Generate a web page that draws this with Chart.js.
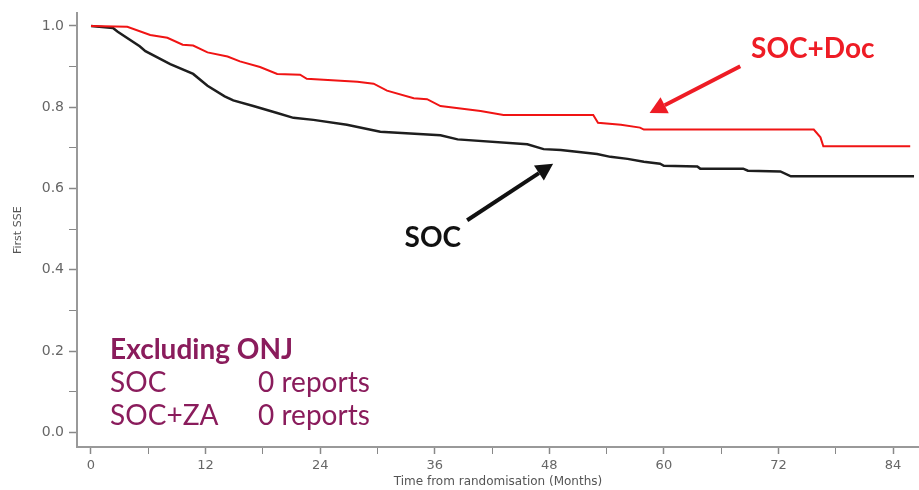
<!DOCTYPE html>
<html>
<head>
<meta charset="utf-8">
<script src="https://cdn.jsdelivr.net/npm/chart.js@4.4.1/dist/chart.umd.min.js"></script>
<style>
  html, body { margin: 0; padding: 0; background: #fff; }
  .chart-box { width: 919px; height: 490px; position: relative; }
</style>
</head>
<body>
<div class="chart-box"><canvas class="sse-chart"></canvas></div>
<script>
// SOC arm (black) - months from randomisation and first SSE free proportion
const socMonths = [0, 2.3, 2.8, 5.1, 5.7, 8.3, 10.7, 12.2, 14.0, 14.9, 17.0, 19.5, 21.2, 23.3, 26.8, 30.3, 36.6, 38.4, 45.7, 47.4, 49.2, 53.0, 54.4, 56.2, 57.9, 59.6, 60.0, 63.5, 63.8, 68.3, 68.8, 72.2, 73.3, 86.2];
const socSurv = [1.0, 0.995, 0.986, 0.950, 0.938, 0.906, 0.882, 0.853, 0.827, 0.817, 0.803, 0.786, 0.774, 0.769, 0.757, 0.740, 0.731, 0.721, 0.709, 0.697, 0.695, 0.685, 0.678, 0.673, 0.666, 0.661, 0.656, 0.654, 0.649, 0.649, 0.644, 0.642, 0.630, 0.630];

// SOC+Doc arm (red)
const docMonths = [0, 3.8, 6.2, 8.0, 9.6, 10.7, 12.2, 14.3, 15.6, 17.7, 19.5, 21.9, 22.6, 27.9, 29.6, 31.0, 33.8, 35.2, 36.6, 40.8, 43.2, 52.6, 53.1, 55.5, 57.5, 57.9, 75.7, 76.4, 76.7, 85.8];
const docSurv = [1.0, 0.998, 0.978, 0.971, 0.954, 0.952, 0.935, 0.925, 0.913, 0.899, 0.882, 0.880, 0.870, 0.863, 0.858, 0.841, 0.822, 0.820, 0.803, 0.791, 0.781, 0.781, 0.762, 0.757, 0.750, 0.745, 0.745, 0.726, 0.704, 0.704];

// axis ticks
const xTicks = [0, 6, 12, 18, 24, 30, 36, 42, 48, 54, 60, 66, 72, 78, 84];
const xLabels = ["0", "12", "24", "36", "48", "60", "72", "84"];
const yTicks = [0, 0.1, 0.2, 0.3, 0.4, 0.5, 0.6, 0.7, 0.8, 0.9, 1.0];
const yLabels = ["0.0", "0.2", "0.4", "0.6", "0.8", "1.0"];

// text notes on the plot
const noteTitle = "Excluding ONJ";
const noteRows = [["SOC", "0 reports"], ["SOC+ZA", "0 reports"]];

const toPoints = (xs, ys) => xs.map((x, i) => ({ x: x, y: ys[i] }));

const noteColor = "#8a1c5c";
const textFont = "Lato, 'Open Sans', sans-serif";

// draws the arrow with a filled head
function drawArrow(ctx, x1, y1, x2, y2, color) {
  const ang = Math.atan2(y2 - y1, x2 - x1);
  const headLen = 17;
  const headW = 9;
  const bx = x2 - headLen * Math.cos(ang);
  const by = y2 - headLen * Math.sin(ang);
  ctx.save();
  ctx.strokeStyle = color;
  ctx.fillStyle = color;
  ctx.lineWidth = 4;
  ctx.beginPath();
  ctx.moveTo(x1, y1);
  ctx.lineTo(bx, by);
  ctx.stroke();
  ctx.beginPath();
  ctx.moveTo(x2, y2);
  ctx.lineTo(bx + headW * Math.sin(ang), by - headW * Math.cos(ang));
  ctx.lineTo(bx - headW * Math.sin(ang), by + headW * Math.cos(ang));
  ctx.closePath();
  ctx.fill();
  ctx.restore();
}

const notesPlugin = {
  id: "notes",
  afterDatasetsDraw(chart) {
    const ctx = chart.ctx;
    const xs = chart.scales.x;
    const ys = chart.scales.y;
    const px = (t) => xs.getPixelForValue(t);
    const py = (v) => ys.getPixelForValue(v);

    // series labels and arrows
    ctx.save();
    ctx.textAlign = "center";
    ctx.textBaseline = "alphabetic";
    ctx.font = "bold 28px " + textFont;
    ctx.fillStyle = "#ee1c25";
    ctx.fillText("SOC+Doc", px(75.6), py(0.922));
    drawArrow(ctx, px(68.0), py(0.901), px(58.5), py(0.786), "#ee1c25");

    ctx.fillStyle = "#111";
    ctx.fillText("SOC", px(35.8), py(0.457));
    drawArrow(ctx, px(39.4), py(0.522), px(48.4), py(0.661), "#111");

    // bottom-left note block
    ctx.textAlign = "left";
    ctx.fillStyle = noteColor;
    ctx.font = "bold 28px " + textFont;
    ctx.fillText(noteTitle, px(2.0), py(0.180));
    ctx.font = "28px " + textFont;
    noteRows.forEach((row, i) => {
      const v = [0.0986, 0.019][i];
      ctx.fillText(row[0], px(2.0), py(v));
      ctx.fillText(row[1], px(17.5), py(v));
    });
    ctx.restore();
  },
};

const ctx = document.querySelector(".sse-chart").getContext("2d");

const config = {
  type: "line",
  data: {
    datasets: [
      {
        label: "SOC+Doc",
        data: toPoints(docMonths, docSurv),
        borderColor: "#f01414",
        borderWidth: 2,
        pointRadius: 0,
        tension: 0,
      },
      {
        label: "SOC",
        data: toPoints(socMonths, socSurv),
        borderColor: "#1e1e1e",
        borderWidth: 2.5,
        pointRadius: 0,
        tension: 0,
      },
    ],
  },
  options: {
    responsive: true,
    maintainAspectRatio: false,
    animation: false,
    layout: { padding: { top: 3, right: 0, left: 0, bottom: 0 } },
    plugins: {
      legend: { display: false },
      tooltip: { enabled: false },
    },
    scales: {
      x: {
        type: "linear",
        min: -1.466,
        max: 86.72,
        afterBuildTicks: (scale) => {
          scale.ticks = xTicks.map((v) => ({ value: v }));
        },
        afterFit: (scale) => {
          scale.height = 43;
        },
        ticks: {
          autoSkip: false,
          maxRotation: 0,
          padding: 4,
          color: "#666",
          font: { family: "'DejaVu Sans', Verdana, sans-serif", size: 13 },
          callback: (value) => (value % 12 === 0 ? xLabels[value / 12] : ""),
        },
        grid: {
          drawOnChartArea: false,
          drawTicks: true,
          tickLength: 7,
          tickColor: "#888",
          tickWidth: (c) => (c.tick && c.tick.value % 12 === 0 ? 1.5 : 1),
        },
        border: { display: true, color: "#999", width: 2 },
        title: {
          display: true,
          text: "Time from randomisation (Months)",
          color: "#555",
          font: { family: "'DejaVu Sans', Verdana, sans-serif", size: 12 },
          padding: { top: 0, bottom: 1 },
        },
      },
      y: {
        type: "linear",
        min: -0.036,
        max: 1.031,
        afterBuildTicks: (scale) => {
          scale.ticks = yTicks.map((v) => ({ value: v }));
        },
        afterFit: (scale) => {
          scale.width = 77;
        },
        ticks: {
          autoSkip: false,
          padding: 5,
          color: "#666",
          font: { family: "'DejaVu Sans', Verdana, sans-serif", size: 14 },
          callback: (value) => {
            const k = Math.round(value * 10);
            return k % 2 === 0 ? yLabels[k / 2] : "";
          },
        },
        grid: {
          drawOnChartArea: false,
          drawTicks: true,
          tickLength: 8,
          tickColor: "#888",
          tickWidth: (c) => (c.tick && Math.round(c.tick.value * 10) % 2 === 0 ? 1.5 : 1),
        },
        border: { display: true, color: "#999", width: 2 },
        title: {
          display: true,
          text: "First SSE",
          color: "#555",
          font: { family: "'DejaVu Sans', Verdana, sans-serif", size: 11 },
          padding: { top: 12, bottom: 0 },
        },
      },
    },
  },
  plugins: [notesPlugin],
};

const sseChart = new Chart(ctx, config);
</script>
</body>
</html>
